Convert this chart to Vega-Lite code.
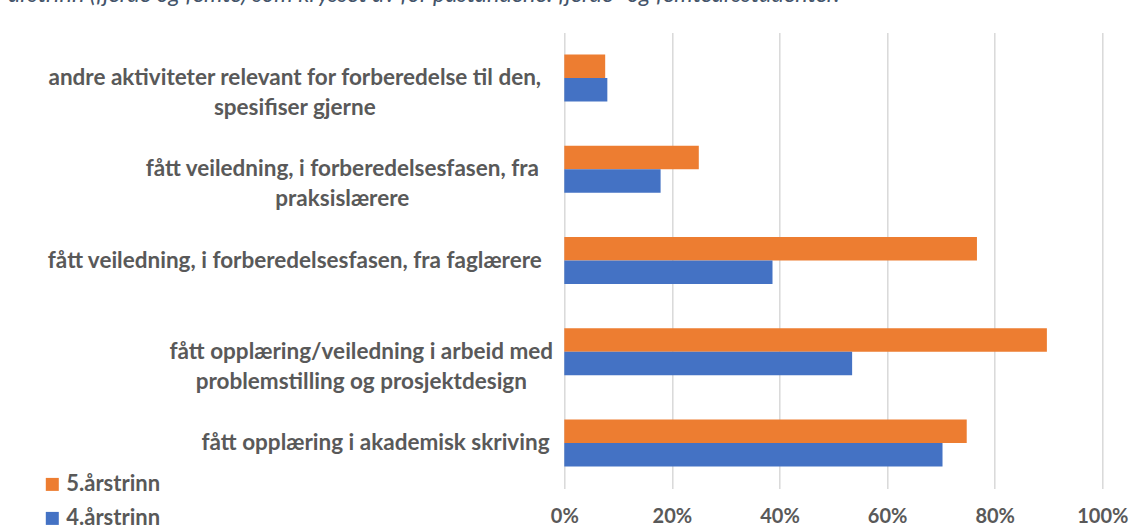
{
  "$schema": "https://vega.github.io/schema/vega-lite/v6.json",
  "width": 538,
  "height": 456.2,
  "autosize": "none",
  "padding": {"left": 564.3, "top": 32.4, "right": 45.7, "bottom": 43.4},
  "background": "white",
  "title": {
    "text": "årstrinn (fjerde og femte) som krysset av for påstandene: fjerde- og femteårsstudenter.",
    "anchor": "start",
    "frame": "group",
    "orient": "top",
    "baseline": "alphabetic",
    "offset": 7,
    "dx": -556,
    "font": "Lato",
    "fontSize": 23.5,
    "fontStyle": "italic",
    "fontWeight": "normal",
    "color": "#44546A"
  },
  "data": {
    "values": [
      {"kategori": "andre aktiviteter relevant for forberedelse til den,\nspesifiser gjerne", "trinn": "5.årstrinn", "andel": 0.076},
      {"kategori": "andre aktiviteter relevant for forberedelse til den,\nspesifiser gjerne", "trinn": "4.årstrinn", "andel": 0.080},
      {"kategori": "fått veiledning, i forberedelsesfasen, fra\npraksislærere", "trinn": "5.årstrinn", "andel": 0.250},
      {"kategori": "fått veiledning, i forberedelsesfasen, fra\npraksislærere", "trinn": "4.årstrinn", "andel": 0.179},
      {"kategori": "fått veiledning, i forberedelsesfasen, fra faglærere", "trinn": "5.årstrinn", "andel": 0.767},
      {"kategori": "fått veiledning, i forberedelsesfasen, fra faglærere", "trinn": "4.årstrinn", "andel": 0.387},
      {"kategori": "fått opplæring/veiledning i arbeid med\nproblemstilling og prosjektdesign", "trinn": "5.årstrinn", "andel": 0.897},
      {"kategori": "fått opplæring/veiledning i arbeid med\nproblemstilling og prosjektdesign", "trinn": "4.årstrinn", "andel": 0.535},
      {"kategori": "fått opplæring i akademisk skriving", "trinn": "5.årstrinn", "andel": 0.748},
      {"kategori": "fått opplæring i akademisk skriving", "trinn": "4.årstrinn", "andel": 0.703}
    ]
  },
  "mark": {"type": "bar"},
  "encoding": {
    "y": {
      "field": "kategori",
      "type": "nominal",
      "sort": null,
      "scale": {"paddingInner": 0.485, "paddingOuter": 0.2425},
      "axis": {
        "title": null,
        "domain": false,
        "ticks": false,
        "tickSize": 0,
        "labelAlign": "center",
        "labelBaseline": "middle",
        "labelPadding": {"condition": {"test": "length(datum.value) > 0", "expr": "23 + 4.75 * length(split(datum.value, '\\n')[0])"}, "value": 23},
        "labelFont": "Lato",
        "labelFontSize": 22.5,
        "labelFontWeight": "bold",
        "labelColor": "#595959",
        "labelLineHeight": 30,
        "labelLimit": 0,
        "labelExpr": "split(datum.value, '\\n')"
      }
    },
    "yOffset": {"field": "trinn", "type": "nominal", "sort": ["5.årstrinn", "4.årstrinn"]},
    "x": {
      "field": "andel",
      "type": "quantitative",
      "scale": {"domain": [0, 1], "nice": false},
      "axis": {
        "title": null,
        "values": [0, 0.2, 0.4, 0.6, 0.8, 1],
        "format": ".0%",
        "domain": false,
        "ticks": false,
        "tickSize": 0,
        "grid": true,
        "gridColor": "#D9D9D9",
        "gridWidth": 1.5,
        "labelFont": "Lato",
        "labelFontSize": 20,
        "labelFontWeight": "bold",
        "labelColor": "#595959",
        "labelPadding": 18,
        "labelFlush": false
      }
    },
    "color": {
      "field": "trinn",
      "type": "nominal",
      "scale": {"domain": ["5.årstrinn", "4.årstrinn"], "range": ["#ED7D31", "#4472C4"]},
      "legend": {
        "title": null,
        "orient": "none",
        "legendX": -523,
        "legendY": 441,
        "direction": "vertical",
        "symbolType": "square",
        "symbolSize": 169,
        "symbolStrokeWidth": 0,
        "labelFont": "Lato",
        "labelFontSize": 22,
        "labelFontWeight": "bold",
        "labelColor": "#595959",
        "labelOffset": 3,
        "rowPadding": 12
      }
    }
  },
  "config": {"view": {"stroke": null}}
}
